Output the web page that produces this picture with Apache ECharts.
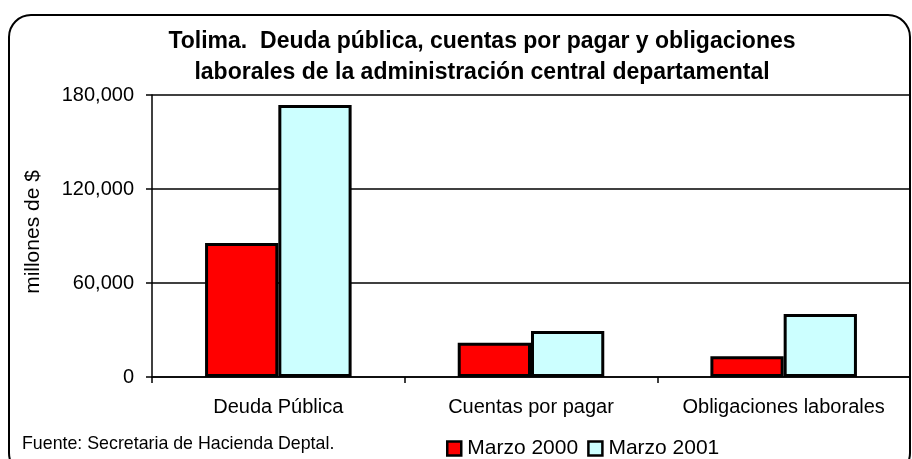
<!DOCTYPE html>
<html>
<head>
<meta charset="utf-8">
<script src="https://cdn.jsdelivr.net/npm/echarts@6/dist/echarts.min.js"></script>
<style>
  html, body { margin: 0; padding: 0; background: #fff; }
  #chart { width: 912px; height: 459px; }
</style>
</head>
<body>
<div id="chart"></div>
<script>
// datos (millones de $)
const categorias = ['Deuda Pública', 'Cuentas por pagar', 'Obligaciones laborales']
const marzo2000 = [85500, 21800, 13300]
const marzo2001 = [173600, 29300, 40200]
const series = ['Marzo 2000', 'Marzo 2001']

const font = '"Liberation Sans", Arial, sans-serif'
const chart = echarts.init(document.getElementById('chart'))

chart.setOption({
  animation: false,
  backgroundColor: '#fff',
  title: {
    text: 'Tolima.  Deuda pública, cuentas por pagar y obligaciones\nlaborales de la administración central departamental',
    left: 477,
    top: 21,
    textAlign: 'center',
    textStyle: {
      fontFamily: font,
      fontSize: 23,
      fontWeight: 'bold',
      color: '#000',
      lineHeight: 31
    }
  },
  legend: {
    left: 441,
    top: 433,
    itemWidth: 14,
    itemHeight: 14,
    itemGap: 9,
    icon: 'rect',
    data: series,
    textStyle: { fontFamily: font, fontSize: 21, color: '#000', padding: [0, 0, 0, 1] },
    itemStyle: { borderColor: '#000', borderWidth: 2.5 }
  },
  grid: {
    left: 152,
    right: 2,
    top: 95,
    bottom: 82
  },
  xAxis: {
    type: 'category',
    data: categorias,
    axisLine: { lineStyle: { color: '#000', width: 1.5 } },
    axisTick: { show: true, length: 6, lineStyle: { color: '#000', width: 1.5 } },
    axisLabel: { interval: 0, fontFamily: font, fontSize: 20, color: '#000', margin: 20 }
  },
  yAxis: {
    type: 'value',
    min: 0,
    max: 180000,
    interval: 60000,
    name: 'millones de $',
    nameLocation: 'middle',
    nameGap: 108,
    nameTextStyle: { fontFamily: font, fontSize: 21, color: '#000', padding: [0, 0, 0, 8] },
    axisLine: { show: true, lineStyle: { color: '#000', width: 1.5 } },
    axisTick: { show: true, length: 6, lineStyle: { color: '#000', width: 1.5 } },
    axisLabel: {
      fontFamily: font,
      fontSize: 20,
      color: '#000',
      margin: 18,
      formatter: v => v.toLocaleString('en-US')
    },
    splitLine: { lineStyle: { color: '#000', width: 1.5 } }
  },
  series: [
    {
      name: series[0],
      type: 'bar',
      data: marzo2000,
      barWidth: '29%',
      barGap: '0%',
      itemStyle: { color: '#ff0000', borderColor: '#000', borderWidth: 3 }
    },
    {
      name: series[1],
      type: 'bar',
      data: marzo2001,
      barWidth: '29%',
      itemStyle: { color: '#ccffff', borderColor: '#000', borderWidth: 3 }
    }
  ],
  graphic: [
    {
      type: 'rect',
      silent: true,
      shape: { x: 9, y: 15, width: 901, height: 460, r: 22 },
      style: { fill: 'none', stroke: '#000', lineWidth: 2 }
    },
    {
      type: 'text',
      left: 22,
      top: 435,
      style: {
        text: 'Fuente: Secretaria de Hacienda Deptal.',
        font: '17.8px ' + font,
        fill: '#000'
      }
    }
  ]
})
</script>
</body>
</html>
